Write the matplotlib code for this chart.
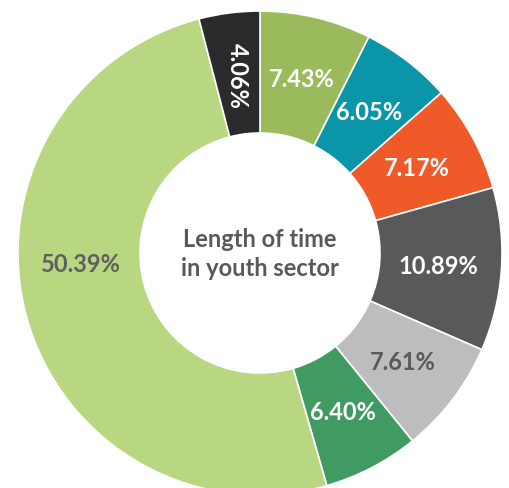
import numpy as np
import matplotlib.pyplot as plt

plt.rcParams['font.family'] = ['Lato', 'DejaVu Sans']

# 青年部門任職時間分佈
shares = [7.43, 6.05, 7.17, 10.89, 7.61, 6.40, 50.39, 4.06]
colors = ['#9aba5c', '#0a95a9', '#f05a28', '#58595b', '#bdbdbf',
          '#3f9b61', '#b9d680', '#2b2b2d']
text_colors = ['white', 'white', 'white', 'white', '#58595b',
               'white', '#5f6062', 'white']

fig = plt.figure(figsize=(5.09, 4.89), dpi=100)
ax = fig.add_axes([0, 0, 1, 1])

cx, cy, r = 260, 235, 242
label_dist = 0.74
wedges, texts = ax.pie(
    shares, colors=colors, startangle=90, counterclock=False,
    center=(cx, cy), radius=r,
    labels=['%.2f%%' % s for s in shares], labeldistance=label_dist,
    wedgeprops=dict(width=122, edgecolor='white', linewidth=1.2),
    textprops=dict(fontsize=17, fontweight='bold', ha='center', va='center'),
)
# pie 會重設座標範圍，之後再用像素單位設定
ax.set_xlim(0, 509)
ax.set_ylim(0, 489)
ax.set_aspect('equal')
ax.axis('off')

for t, c in zip(texts, text_colors):
    t.set_color(c)
texts[-1].set_rotation(-90)

# 大扇區的標籤移到左側水平位置
ang = np.deg2rad(183.5)
texts[6].set_position((cx + label_dist * r * np.cos(ang),
                       cy + label_dist * r * np.sin(ang)))

ax.text(cx, cy, 'Length of time\nin youth sector', ha='center', va='center',
        fontsize=17, fontweight='bold', color='#58595b', linespacing=1.35)

plt.savefig('out.png', dpi=100)
plt.close()
